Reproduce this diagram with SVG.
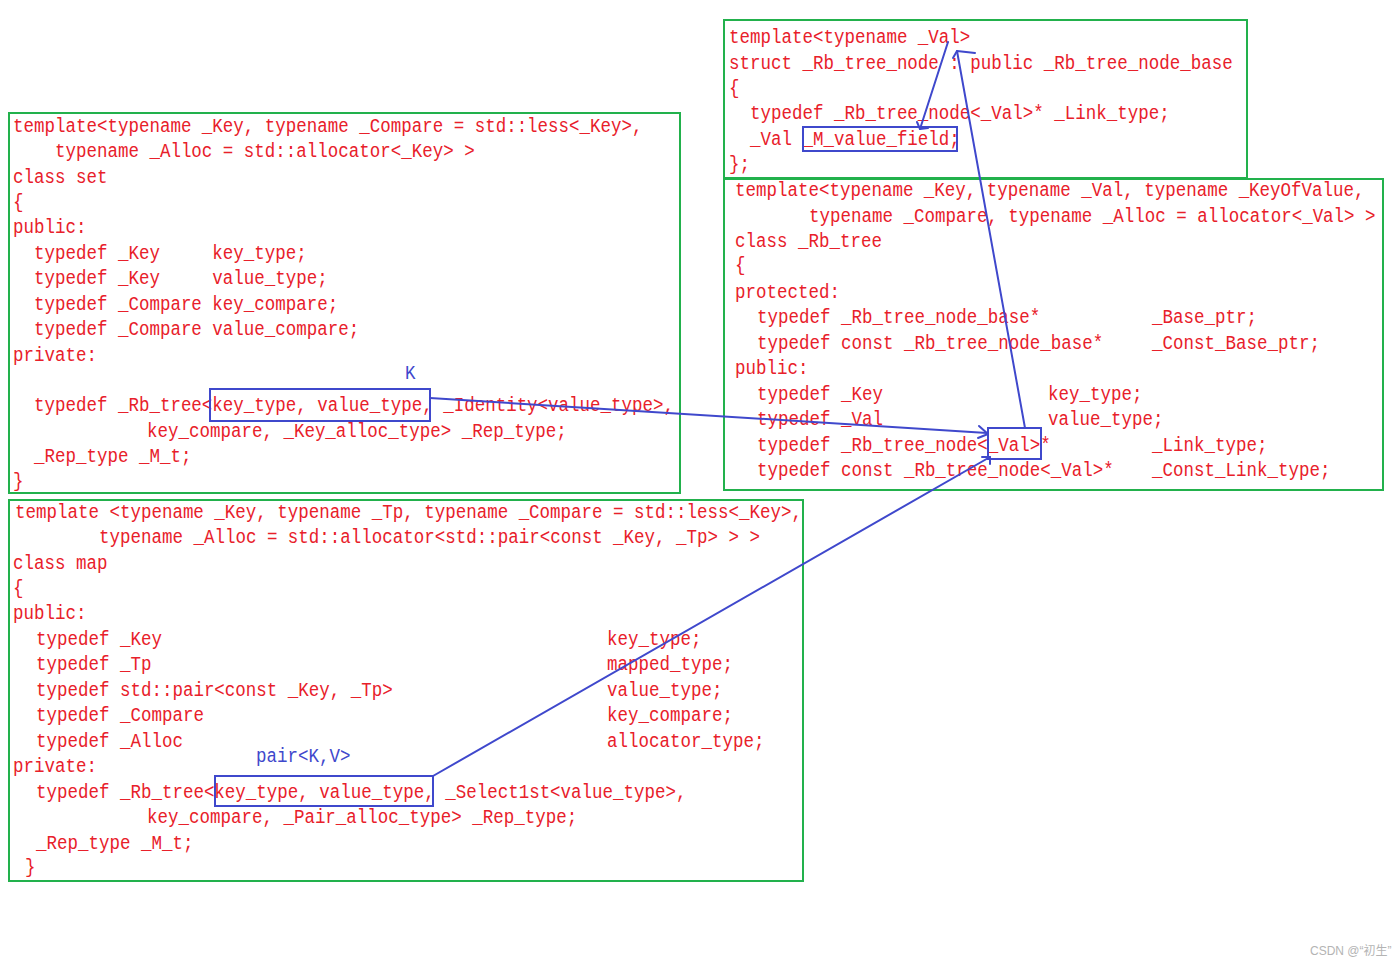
<svg xmlns="http://www.w3.org/2000/svg" width="1400" height="963" viewBox="0 0 1400 963" xml:space="preserve">
<style>
.bg{fill:#ffffff}
.box{fill:none;stroke:#22b14c;stroke-width:2}
.hl{fill:none;stroke:#3f48cc;stroke-width:2}
.t{font-family:"Liberation Mono","DejaVu Sans Mono",monospace;font-size:21px;fill:#e8202a;white-space:pre}
.b{font-family:"Liberation Mono","DejaVu Sans Mono",monospace;font-size:21px;fill:#3f48cc;white-space:pre}
.c{fill:none;stroke:#3f48cc;stroke-width:2;stroke-linecap:round;stroke-linejoin:round}
.wm{font-family:"Liberation Sans","Noto Sans CJK SC",sans-serif;font-size:12px;fill:#b4b4b4}
</style>
<rect class="bg" x="0" y="0" width="1400" height="963"/>

<g id="node-set">
<rect class="box" x="9" y="113" width="671" height="380"/>
<text class="t" transform="translate(13,132) scale(.8333 1)">template&lt;typename _Key, typename _Compare = std::less&lt;_Key&gt;,</text>
<text class="t" transform="translate(13,157) scale(.8333 1)">    typename _Alloc = std::allocator&lt;_Key&gt; &gt;</text>
<text class="t" transform="translate(13,183) scale(.8333 1)">class set</text>
<text class="t" transform="translate(13,208) scale(.8333 1)">{</text>
<text class="t" transform="translate(13,233) scale(.8333 1)">public:</text>
<text class="t" transform="translate(13,259) scale(.8333 1)">  typedef _Key     key_type;</text>
<text class="t" transform="translate(13,284) scale(.8333 1)">  typedef _Key     value_type;</text>
<text class="t" transform="translate(13,310) scale(.8333 1)">  typedef _Compare key_compare;</text>
<text class="t" transform="translate(13,335) scale(.8333 1)">  typedef _Compare value_compare;</text>
<text class="t" transform="translate(13,361) scale(.8333 1)">private:</text>
<text class="b" transform="translate(405,379) scale(.8333 1)">K</text>
<text class="t" transform="translate(13,411) scale(.8333 1)">  typedef _Rb_tree&lt;key_type, value_type, _Identity&lt;value_type&gt;,</text>
<text class="t" transform="translate(147,437) scale(.8333 1)">key_compare, _Key_alloc_type&gt; _Rep_type;</text>
<text class="t" transform="translate(13,462) scale(.8333 1)">  _Rep_type _M_t;</text>
<text class="t" transform="translate(13,487) scale(.8333 1)">}</text>
<rect class="hl" x="210" y="389" width="220" height="32"/>
</g>

<g id="node-rb-tree-node">
<rect class="box" x="724" y="20" width="523" height="158"/>
<text class="t" transform="translate(729,43) scale(.8333 1)">template&lt;typename _Val&gt;</text>
<text class="t" transform="translate(729,69) scale(.8333 1)">struct _Rb_tree_node : public _Rb_tree_node_base</text>
<text class="t" transform="translate(729,94) scale(.8333 1)">{</text>
<text class="t" transform="translate(729,119) scale(.8333 1)">  typedef _Rb_tree_node&lt;_Val&gt;* _Link_type;</text>
<text class="t" transform="translate(729,145) scale(.8333 1)">  _Val _M_value_field;</text>
<text class="t" transform="translate(729,170) scale(.8333 1)">};</text>
<rect class="hl" x="803" y="127" width="154" height="24"/>
</g>

<g id="node-rb-tree">
<rect class="box" x="724" y="179" width="659" height="311"/>
<text class="t" transform="translate(735,196) scale(.8333 1)">template&lt;typename _Key, typename _Val, typename _KeyOfValue,</text>
<text class="t" transform="translate(809,222) scale(.8333 1)">typename _Compare, typename _Alloc = allocator&lt;_Val&gt; &gt;</text>
<text class="t" transform="translate(735,247) scale(.8333 1)">class _Rb_tree</text>
<text class="t" transform="translate(735,271) scale(.8333 1)">{</text>
<text class="t" transform="translate(735,298) scale(.8333 1)">protected:</text>
<text class="t" transform="translate(757,323) scale(.8333 1)">typedef _Rb_tree_node_base*</text>
<text class="t" transform="translate(1152,323) scale(.8333 1)">_Base_ptr;</text>
<text class="t" transform="translate(757,349) scale(.8333 1)">typedef const _Rb_tree_node_base*</text>
<text class="t" transform="translate(1152,349) scale(.8333 1)">_Const_Base_ptr;</text>
<text class="t" transform="translate(735,374) scale(.8333 1)">public:</text>
<text class="t" transform="translate(757,400) scale(.8333 1)">typedef _Key</text>
<text class="t" transform="translate(1048,400) scale(.8333 1)">key_type;</text>
<text class="t" transform="translate(757,425) scale(.8333 1)">typedef _Val</text>
<text class="t" transform="translate(1048,425) scale(.8333 1)">value_type;</text>
<text class="t" transform="translate(757,451) scale(.8333 1)">typedef _Rb_tree_node&lt;_Val&gt;*</text>
<text class="t" transform="translate(1152,451) scale(.8333 1)">_Link_type;</text>
<text class="t" transform="translate(757,476) scale(.8333 1)">typedef const _Rb_tree_node&lt;_Val&gt;*</text>
<text class="t" transform="translate(1152,476) scale(.8333 1)">_Const_Link_type;</text>
<rect class="hl" x="988" y="428" width="53" height="31"/>
</g>

<g id="node-map">
<rect class="box" x="9" y="500" width="794" height="381"/>
<text class="t" transform="translate(15,518) scale(.8333 1)">template &lt;typename _Key, typename _Tp, typename _Compare = std::less&lt;_Key&gt;,</text>
<text class="t" transform="translate(99,543) scale(.8333 1)">typename _Alloc = std::allocator&lt;std::pair&lt;const _Key, _Tp&gt; &gt; &gt;</text>
<text class="t" transform="translate(13,569) scale(.8333 1)">class map</text>
<text class="t" transform="translate(13,594) scale(.8333 1)">{</text>
<text class="t" transform="translate(13,619) scale(.8333 1)">public:</text>
<text class="t" transform="translate(36,645) scale(.8333 1)">typedef _Key</text>
<text class="t" transform="translate(607,645) scale(.8333 1)">key_type;</text>
<text class="t" transform="translate(36,670) scale(.8333 1)">typedef _Tp</text>
<text class="t" transform="translate(607,670) scale(.8333 1)">mapped_type;</text>
<text class="t" transform="translate(36,696) scale(.8333 1)">typedef std::pair&lt;const _Key, _Tp&gt;</text>
<text class="t" transform="translate(607,696) scale(.8333 1)">value_type;</text>
<text class="t" transform="translate(36,721) scale(.8333 1)">typedef _Compare</text>
<text class="t" transform="translate(607,721) scale(.8333 1)">key_compare;</text>
<text class="t" transform="translate(36,747) scale(.8333 1)">typedef _Alloc</text>
<text class="t" transform="translate(607,747) scale(.8333 1)">allocator_type;</text>
<text class="b" transform="translate(256,762) scale(.8333 1)">pair&lt;K,V&gt;</text>
<text class="t" transform="translate(13,772) scale(.8333 1)">private:</text>
<text class="t" transform="translate(36,798) scale(.8333 1)">typedef _Rb_tree&lt;key_type, value_type, _Select1st&lt;value_type&gt;,</text>
<text class="t" transform="translate(147,823) scale(.8333 1)">key_compare, _Pair_alloc_type&gt; _Rep_type;</text>
<text class="t" transform="translate(36,849) scale(.8333 1)">_Rep_type _M_t;</text>
<text class="t" transform="translate(25,873) scale(.8333 1)">}</text>
<rect class="hl" x="215" y="776" width="218" height="30"/>
</g>

<g id="connectors">
<path class="c" d="M430,398 L987,433"/>
<path class="c" d="M979,426 L988,434 L978,438"/>
<path class="c" d="M433,776 L990,457"/>
<path class="c" d="M982,457 L990,457 L990,464"/>
<path class="c" d="M1025,428 L957,51"/>
<path class="c" d="M953,58 L957,51 L975,53"/>
<path class="c" d="M948,42 L920,129"/>
<path class="c" d="M917,122 L920,129 L928,128"/>
</g>

<text class="wm" x="1310" y="955">CSDN @“初生”</text>
</svg>
